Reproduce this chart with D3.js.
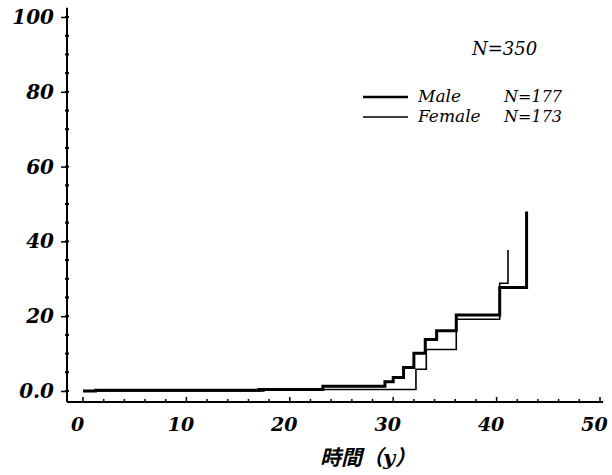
<!DOCTYPE html>
<html>
<head>
<meta charset="utf-8">
<script src="https://cdn.jsdelivr.net/npm/d3@7"></script>
<style>
  body { margin: 0; background: #fff; }
  svg { display: block; }
  .num { font-family: "DejaVu Serif", serif; font-style: italic; font-weight: bold; }
</style>
</head>
<body>
<div id="chart"></div>
<script>
// chart size
var width = 612;
var height = 475;

// data: cumulative incidence (%) step points
var maleTimes   = [0, 1.2, 17, 23.2, 29.2, 30.0, 31.0, 32.0, 33.1, 34.2, 36.1, 40.3, 42.9];
var maleValues  = [0, 0.2, 0.4, 1.3, 2.5, 3.6, 6.3, 10.1, 13.8, 16.1, 20.3, 27.7, 48];
var femaleTimes  = [0, 17.5, 19, 21, 32.2, 33.2, 36.1, 40.3, 41.1];
var femaleValues = [0, 0.3, 0.5, 0.4, 5.8, 11.1, 19.2, 28.8, 37.7];

var xMajor = [0, 10, 20, 30, 40, 50];
var yMajor = [0, 20, 40, 60, 80, 100];
var xMinor = d3.range(0, 51, 2);
var yMinor = d3.range(0, 101, 5);

var legendLabels = ["Male", "Female"];
var legendCounts = ["N=177", "N=173"];
var totalLabel = "N=350";

// scales
var x = d3.scaleLinear().domain([0, 50]).range([83, 600]);
var y = d3.scaleLinear().domain([0, 100]).range([391, 17]);

var svg = d3.select("#chart")
  .append("svg")
  .attr("width", width)
  .attr("height", height);

// axis lines
var axisY = 402;
var axisX = 67;
svg.append("line")
  .attr("x1", axisX).attr("x2", x(50.3))
  .attr("y1", axisY).attr("y2", axisY)
  .style("stroke", "#000").style("stroke-width", 2);
svg.append("line")
  .attr("x1", axisX).attr("x2", axisX)
  .attr("y1", y(102.5)).attr("y2", axisY)
  .style("stroke", "#000").style("stroke-width", 2);

// y ticks
svg.selectAll(".ymin")
  .data(yMinor)
  .enter()
  .append("line")
  .attr("x1", axisX - 2).attr("x2", axisX + 2)
  .attr("y1", function(d) { return y(d); })
  .attr("y2", function(d) { return y(d); })
  .style("stroke", "#000").style("stroke-width", 2);
var yAxis = d3.axisLeft(y)
  .tickValues(yMajor)
  .tickSize(6)
  .tickPadding(8)
  .tickFormat(function(d) { return d === 0 ? "0.0" : d; });
var gy = svg.append("g")
  .attr("transform", "translate(" + axisX + ",0)")
  .call(yAxis);
gy.select(".domain").remove();
gy.selectAll("line").style("stroke-width", 1.5);
gy.selectAll("text")
  .attr("class", "num")
  .style("font-size", "20px")
  .attr("x", -13)
  .style("fill", "#000");

// x ticks
svg.selectAll(".xmin")
  .data(xMinor)
  .enter()
  .append("line")
  .attr("x1", function(d) { return x(d); })
  .attr("x2", function(d) { return x(d); })
  .attr("y1", axisY)
  .attr("y2", function(d) { return d % 10 === 0 ? axisY - 5 : axisY - 3; })
  .style("stroke", "#000").style("stroke-width", 1.5);
var xAxis = d3.axisBottom(x)
  .tickValues(xMajor)
  .tickSize(0)
  .tickPadding(16);
var gx = svg.append("g")
  .attr("transform", "translate(0," + axisY + ")")
  .call(xAxis);
gx.select(".domain").remove();
gx.selectAll("text")
  .attr("class", "num")
  .attr("dx", -6)
  .style("font-size", "19px")
  .style("fill", "#000");

// x axis title
var title = svg.append("text")
  .attr("x", 368)
  .attr("y", 465)
  .attr("text-anchor", "middle")
  .style("font-size", "21px")
  .style("font-style", "italic")
  .style("font-weight", "bold");
title.append("tspan")
  .style("font-family", "'Noto Sans CJK JP', sans-serif")
  .text("時間（");
title.append("tspan")
  .style("font-family", "'DejaVu Serif', serif")
  .text("y");
title.append("tspan")
  .style("font-family", "'Noto Sans CJK JP', sans-serif")
  .text("）");

// step lines
var line = d3.line()
  .x(function(d) { return x(d[0]); })
  .y(function(d) { return y(d[1]); })
  .curve(d3.curveStepAfter);

var femaleData = d3.zip(femaleTimes, femaleValues);
var maleData = d3.zip(maleTimes, maleValues);

svg.append("path")
  .attr("d", line(femaleData))
  .style("fill", "none")
  .style("stroke", "#000")
  .style("stroke-width", 1.6);

svg.append("path")
  .attr("d", line(maleData))
  .style("fill", "none")
  .style("stroke", "#000")
  .style("stroke-width", 3);

// legend
svg.append("text")
  .attr("class", "num")
  .attr("x", 472)
  .attr("y", 55)
  .style("font-size", "18px")
  .style("font-weight", "normal")
  .text(totalLabel);

var legend = svg.selectAll(".legend")
  .data(legendLabels)
  .enter()
  .append("g")
  .attr("transform", function(d, i) { return "translate(0," + (97 + i * 20) + ")"; });
legend.append("line")
  .attr("x1", 363).attr("x2", 408)
  .attr("y1", 0).attr("y2", 0)
  .style("stroke", "#000")
  .style("stroke-width", function(d, i) { return i === 0 ? 2.5 : 1.5; });
legend.append("text")
  .attr("class", "num")
  .attr("x", 418)
  .attr("y", 5)
  .style("font-size", "17px")
  .style("font-weight", "normal")
  .text(function(d) { return d; });
legend.append("text")
  .attr("class", "num")
  .attr("x", 562)
  .attr("y", 5)
  .attr("text-anchor", "end")
  .style("font-size", "16px")
  .style("font-weight", "normal")
  .text(function(d, i) { return legendCounts[i]; });
</script>
</body>
</html>
